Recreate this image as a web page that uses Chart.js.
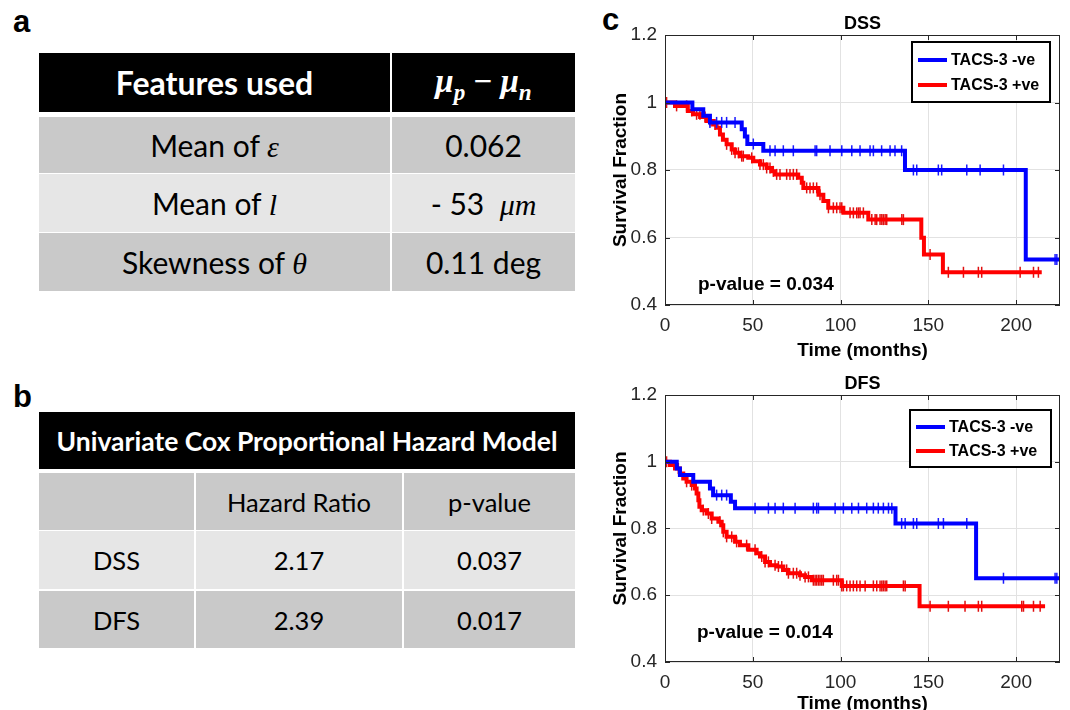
<!DOCTYPE html>
<html><head><meta charset="utf-8">
<script src="https://cdn.jsdelivr.net/npm/chart.js@4"></script>
<style>
html,body{margin:0;padding:0;background:#fff;width:1070px;height:710px;overflow:hidden;position:relative;}
.cell{position:absolute;display:flex;align-items:center;justify-content:center;font-family:Lato,'Open Sans',sans-serif;color:#000;white-space:nowrap;}
.hdr{background:#000;color:#fff;font-weight:bold;}
.dk{background:#c9c9c9}
.lt{background:#e6e6e6}
.m{font-family:'Liberation Serif','DejaVu Serif',serif;font-style:italic;}
.mh{font-family:'Liberation Serif','DejaVu Serif',serif;font-weight:bold;}
.lbl{position:absolute;font-family:'Liberation Sans',Arial,sans-serif;font-weight:bold;font-size:31px;line-height:31px;color:#000;}
.cv{position:absolute;}
</style></head><body>
<div class="lbl" style="left:13px;top:6px">a</div>
<div class="lbl" style="left:13px;top:381px">b</div>
<div class="lbl" style="left:602px;top:4px">c</div>
<div id="tableA"></div>
<div id="tableB"></div>
<canvas id="dss" class="cv" width="470" height="362" style="left:600px;top:0px"></canvas>
<canvas id="dfs" class="cv" width="470" height="350" style="left:600px;top:365px"></canvas>
<script>
// ---------- table data ----------
const featureHeader = ['Features used', '<span class="mh"><i>μ<sub style="font-size:0.7em">p</sub></i> &minus; <i>μ<sub style="font-size:0.7em">n</sub></i></span>'];
const featureNames = ['Mean of <span class="m">ε</span>', 'Mean of <span class="m">l</span>', 'Skewness of <span class="m">θ</span>'];
const featureDiffs = ['0.062', '- 53&nbsp; <span class="m">μm</span>', '0.11 deg'];
const coxTitle = 'Univariate Cox Proportional Hazard Model';
const coxHeaders = ['', 'Hazard Ratio', 'p-value'];
const coxEndpoints = ['DSS', 'DFS'];
const hazardRatios = ['2.17', '2.39'];
const coxPValues = ['0.037', '0.017'];

// ---------- chart data (months, survival fraction) ----------
const timeTicks = [0, 50, 100, 150, 200];
const survTicks = [0.4, 0.6, 0.8, 1.0, 1.2];
const seriesLabels = ['TACS-3 -ve', 'TACS-3 +ve'];

const dssNegTime = [0, 15.6, 21.8, 25.6, 43.7, 45.5, 46.9, 56, 136.7, 205.5, 225];
const dssNegSurv = [1, 0.98, 0.961, 0.941, 0.921, 0.899, 0.877, 0.857, 0.80, 0.535, 0.535];
const dssNegCens = [25.6, 29.4, 32.3, 35.1, 39.9, 50.3, 59.8, 62.7, 67.4, 73.1, 85.5, 86.4, 94, 100.7, 106.4, 111.1, 116.8, 118.7, 123.4, 128.2, 131, 134.8, 141.5, 143.4, 155.7, 157.6, 171.9, 179.5, 192.8, 222.2, 223.2];

const dssPosTime = [0, 5.7, 13, 16, 20, 23.7, 27.4, 29.4, 31.3, 33, 35.1, 38, 39.9, 42.7, 47.4, 50.3, 54.1, 57.9, 60.8, 62.7, 75.9, 77.9, 78.8, 87.4, 90.2, 93, 101.6, 115.8, 146, 147.5, 158.3, 214.6];
const dssPosSurv = [1, 0.99, 0.975, 0.965, 0.957, 0.945, 0.935, 0.925, 0.905, 0.89, 0.876, 0.861, 0.851, 0.841, 0.836, 0.826, 0.816, 0.806, 0.796, 0.787, 0.777, 0.762, 0.747, 0.727, 0.708, 0.688, 0.673, 0.653, 0.599, 0.55, 0.497, 0.497];
const dssPosCens = [0.9, 6.6, 12.3, 15.2, 18.0, 19.9, 22.8, 25.6, 28.5, 35.1, 38.0, 39.9, 41.8, 43.7, 44.6, 49.4, 54.1, 56.0, 57.9, 59.8, 61.7, 63.6, 65.5, 69.3, 71.2, 73.1, 75.0, 80.7, 82.6, 84.5, 86.4, 88.3, 93.1, 95.9, 97.8, 99.7, 100.7, 105.4, 107.3, 109.2, 110.2, 111.1, 113.0, 117.8, 119.7, 120.6, 122.5, 123.5, 124.4, 125.4, 126.3, 134.9, 135.8, 151.0, 161.4, 170.0, 178.5, 180.4, 202.3, 209.9, 212.7];

const dfsNegTime = [0, 6.7, 8.5, 16.1, 25.6, 27.4, 37.5, 39.9, 131.3, 177.2, 225];
const dfsNegSurv = [1, 0.98, 0.96, 0.94, 0.92, 0.90, 0.88, 0.861, 0.815, 0.651, 0.651];
const dfsNegCens = [29.4, 32.3, 35.1, 51.3, 58.9, 62.7, 67.4, 74.1, 84.5, 86.4, 87.4, 96.9, 101.6, 106.4, 110.2, 114.9, 118.7, 121.5, 124.4, 127.3, 129.2, 134.8, 136.8, 141.5, 143.4, 155.7, 158.6, 171.9, 192.8, 222.2, 223.2];

const dfsPosTime = [0, 2.8, 5.7, 8.5, 10.4, 12.3, 15.2, 17.1, 18, 19, 19.6, 20.9, 23.7, 26.6, 30.4, 32.3, 33.2, 35.1, 39.9, 42.7, 47.5, 52.2, 54.1, 57, 59.8, 63.6, 67.4, 70.3, 76.9, 79.8, 83.6, 100.7, 145, 216.5];
const dfsPosSurv = [1, 0.99, 0.98, 0.965, 0.95, 0.94, 0.93, 0.92, 0.905, 0.885, 0.865, 0.855, 0.845, 0.83, 0.82, 0.81, 0.79, 0.775, 0.76, 0.75, 0.736, 0.726, 0.716, 0.70, 0.69, 0.686, 0.676, 0.666, 0.66, 0.655, 0.645, 0.628, 0.567, 0.567];
const dfsPosCens = [0.9, 7.6, 12.3, 15.2, 21.8, 24.7, 26.6, 31.3, 33.2, 35.1, 38.0, 40.8, 46.5, 51.3, 55.1, 57.0, 58.9, 62.7, 64.6, 66.5, 69.3, 70.3, 73.1, 75.0, 76.9, 79.8, 81.7, 84.5, 85.5, 86.4, 87.4, 88.3, 89.3, 90.2, 95.9, 97.8, 98.8, 100.7, 101.6, 103.5, 105.4, 107.3, 109.2, 111.1, 114.0, 118.7, 120.6, 122.5, 123.5, 124.4, 125.4, 126.3, 135.8, 136.8, 151.0, 161.4, 170.9, 178.5, 180.4, 203.2, 204.2, 209.9, 213.7];

// ---------- tables ----------
function cell(parent, cls, x, y, w, h, html, fs){
  const d = document.createElement('div');
  d.className = 'cell ' + cls;
  d.style.left = x + 'px'; d.style.top = y + 'px';
  d.style.width = w + 'px'; d.style.height = h + 'px';
  d.style.fontSize = fs + 'px';
  d.innerHTML = '<span>' + html + '</span>';
  parent.appendChild(d);
}
const tA = document.getElementById('tableA');
const colA = [[39, 351], [392, 183]];
cell(tA, 'hdr', colA[0][0], 53, colA[0][1], 59, featureHeader[0], 32);
cell(tA, 'hdr', colA[1][0], 53, colA[1][1], 59, featureHeader[1], 33);
const rowsA = [[117, 56, 'dk'], [174, 58, 'lt'], [233, 58, 'dk']];
featureNames.forEach((n, i) => {
  const r = rowsA[i];
  cell(tA, r[2], colA[0][0], r[0], colA[0][1], r[1], n, 30);
  cell(tA, r[2], colA[1][0], r[0], colA[1][1], r[1], featureDiffs[i], 30);
});
const tB = document.getElementById('tableB');
cell(tB, 'hdr', 39, 412, 536, 57, coxTitle, 26.5);
const colB = [[39, 155], [196, 206], [404, 171]];
const rowsB = [[473, 57, 'dk'], [531, 58, 'lt'], [591, 57, 'dk']];
coxHeaders.forEach((h, j) => cell(tB, rowsB[0][2], colB[j][0], rowsB[0][0], colB[j][1], rowsB[0][1], h, 25.5));
coxEndpoints.forEach((e, i) => {
  const r = rowsB[i + 1];
  [e, hazardRatios[i], coxPValues[i]].forEach((v, j) => cell(tB, r[2], colB[j][0], r[0], colB[j][1], r[1], v, 25.5));
});

// ---------- charts ----------
const FONT = "'Liberation Sans', Arial, Helvetica, sans-serif";
function stepAt(times, surv, t){
  let v = surv[0];
  for (let i = 0; i < times.length; i++) { if (times[i] <= t) v = surv[i]; else break; }
  return v;
}
const kmDecor = {
  id: 'kmDecor',
  afterDraw(chart, args, o){
    const {ctx, chartArea: a} = chart;
    const xs = chart.scales.x, ys = chart.scales.y;
    ctx.save();
    ctx.strokeStyle = '#262626'; ctx.lineWidth = 1;
    ctx.strokeRect(a.left + 0.5, a.top + 0.5, a.right - a.left - 1, a.bottom - a.top - 1);
    ctx.beginPath();
    xs.ticks.forEach(t => { const p = Math.round(xs.getPixelForValue(t.value)) + 0.5;
      ctx.moveTo(p, a.bottom); ctx.lineTo(p, a.bottom - 5); ctx.moveTo(p, a.top); ctx.lineTo(p, a.top + 5); });
    ys.ticks.forEach(t => { const p = Math.round(ys.getPixelForValue(t.value)) + 0.5;
      ctx.moveTo(a.left, p); ctx.lineTo(a.left + 5, p); ctx.moveTo(a.right, p); ctx.lineTo(a.right - 5, p); });
    ctx.stroke();
    ctx.fillStyle = '#000';
    ctx.font = 'bold 18px ' + FONT; ctx.textAlign = 'center'; ctx.textBaseline = 'middle';
    ctx.fillText(o.title, (a.left + a.right) / 2, a.top - 11);
    ctx.font = 'bold 19px ' + FONT; ctx.textAlign = 'left';
    ctx.fillText(o.pText, a.left + o.pdx, a.bottom - o.pdy);
    const L = o.legend;
    const bx = a.right - L.right - L.w, by = a.top + L.top;
    ctx.fillStyle = '#fff'; ctx.fillRect(bx, by, L.w, L.h);
    ctx.lineWidth = 2; ctx.strokeStyle = '#000'; ctx.strokeRect(bx, by, L.w, L.h);
    const items = chart.data.datasets.filter(d => d.inLegend);
    items.forEach((d, i) => {
      const y = by + L.row0 + i * L.gap;
      ctx.strokeStyle = d.borderColor; ctx.lineWidth = 4;
      ctx.beginPath(); ctx.moveTo(bx + 6, y); ctx.lineTo(bx + 35, y); ctx.stroke();
      ctx.fillStyle = '#000'; ctx.font = 'bold 16px ' + FONT; ctx.textBaseline = 'middle';
      ctx.fillText(d.label, bx + 39, y + 1);
    });
    ctx.restore();
  }
};
function makeKM(id, title, pText, neg, pos, opts){
  const line = (times, surv, color, label) => ({
    label: label, inLegend: true,
    data: times.map((t, i) => ({x: t, y: surv[i]})),
    borderColor: color, backgroundColor: color, borderWidth: 4,
    stepped: 'before', pointRadius: 0, fill: false
  });
  const cens = (times, surv, c, color) => ({
    label: '', inLegend: false,
    data: c.map(t => ({x: t, y: stepAt(times, surv, t)})),
    showLine: false, pointStyle: 'line', rotation: 90, pointRadius: 5.5,
    borderColor: color, borderWidth: 1.5
  });
  new Chart(document.getElementById(id), {
    type: 'line',
    data: { datasets: [
      line(neg[0], neg[1], '#0000ff', seriesLabels[0]),
      cens(neg[0], neg[1], neg[2], '#1a1aff'),
      line(pos[0], pos[1], '#ff0000', seriesLabels[1]),
      cens(pos[0], pos[1], pos[2], '#e01010')
    ]},
    options: {
      responsive: false, animation: false, devicePixelRatio: 1,
      layout: { padding: { left: 9, top: opts.top, right: 10, bottom: 0 } },
      plugins: { legend: { display: false }, tooltip: { enabled: false },
        kmDecor: { title: title, pText: pText, pdx: opts.pdx, pdy: opts.pdy, legend: opts.legend } },
      scales: {
        x: { type: 'linear', min: 0, max: 225,
          afterBuildTicks: s => { s.ticks = timeTicks.map(v => ({value: v})); },
          afterFit: s => { s.height = opts.xh; },
          grid: { color: '#e2e2e2', drawTicks: false },
          border: { display: false },
          ticks: { padding: 9, color: '#262626', font: { family: FONT, size: 19 } },
          title: { display: true, text: 'Time (months)', color: '#000', padding: 0, font: { family: FONT, size: 19, weight: 'bold' } } },
        y: { type: 'linear', min: 0.4, max: 1.2,
          afterBuildTicks: s => { s.ticks = survTicks.map(v => ({value: v})); },
          afterFit: s => { s.width = 56; },
          grid: { color: '#e2e2e2', drawTicks: false },
          border: { display: false },
          ticks: { padding: 8, color: '#262626', font: { family: FONT, size: 19 },
            callback: v => String(parseFloat(Number(v).toFixed(1))) },
          title: { display: true, text: 'Survival Fraction', color: '#000', padding: 0, font: { family: FONT, size: 19, weight: 'bold' } } }
      }
    },
    plugins: [kmDecor]
  });
}
makeKM('dss', 'DSS', 'p-value = 0.034',
  [dssNegTime, dssNegSurv, dssNegCens], [dssPosTime, dssPosSurv, dssPosCens],
  { top: 35, xh: 57, pdx: 33, pdy: 20, legend: { right: 10, top: 7, w: 138, h: 60, row0: 18, gap: 25 } });
makeKM('dfs', 'DFS', 'p-value = 0.014',
  [dfsNegTime, dfsNegSurv, dfsNegCens], [dfsPosTime, dfsPosSurv, dfsPosCens],
  { top: 30, xh: 53, pdx: 32, pdy: 29, legend: { right: 9, top: 15, w: 141, h: 57, row0: 17, gap: 24 } });
</script>
</body></html>
